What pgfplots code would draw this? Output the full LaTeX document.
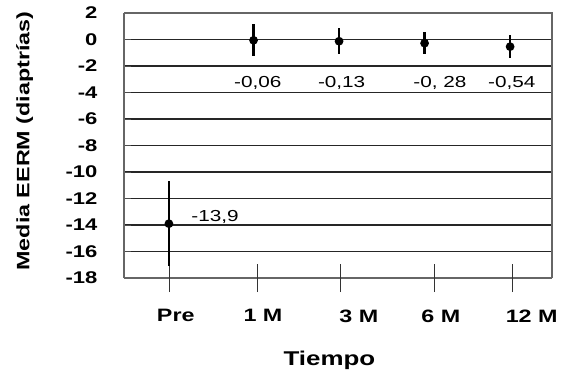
\documentclass[border=0pt]{standalone}
\usepackage{fontspec}
\setmainfont[FakeStretch=1.3]{Liberation Sans}
\usepackage{pgfplots}
\pgfplotsset{compat=1.18}
\begin{document}
\begin{tikzpicture}[x=1bp,y=1bp]
\useasboundingbox (0,0) rectangle (564,373);
\begin{axis}[
  at={(124bp,95bp)}, anchor=south west,
  scale only axis, width=428bp, height=265bp,
  xmin=-0.515, xmax=4.49, ymin=-18, ymax=2,
  ytick={-18,-16,...,2},
  yticklabels={-18,-16,-14,-12,-10,-8,-6,-4,-2,0,2},
  yticklabel style={font=\fontsize{17}{18}\selectfont\bfseries, xshift=-23bp},
  xtick=\empty,
  extra x ticks={0.02,1.04,2.02,3.12,4.03},
  extra x tick labels={Pre,1 M,\hspace*{24bp}3 M,6 M,\hspace*{26bp}12 M},
  extra x tick style={major tick length=28bp, tick align=center,
    tick style={black!80, line width=0.8pt},
    xticklabel style={font=\fontsize{18}{19}\selectfont\bfseries, xshift=6bp, yshift=-14bp}},
  major tick length=7bp,
  y tick style={black!70, line width=0.8pt},
  ytick pos=left, xtick pos=bottom,
  ymajorgrids, grid style={black!85, line width=1.1pt},
  axis line style={black!60, line width=1.2pt},
  axis x line*=bottom,
  xlabel={\textbf{Tiempo}},
  ylabel={\textbf{Media EERM (diaptrías)}},
  xlabel style={font=\fontsize{20}{21}\selectfont, at={(axis description cs:0.48,-0.31)}, anchor=center},
  ylabel style={font=\fontsize{18}{19}\selectfont, at={(axis description cs:-0.232,0.517)}, anchor=center},
  clip=false,
]
\addplot[black, line width=2.6pt, mark=*, mark size=3pt, only marks,
  error bars/.cd, y dir=both, y explicit,
  error bar style={black, line width=2.6pt}, error mark=none]
  coordinates {
  (0.01,-13.9) +- (0,3.2)
  (1,-0.06) +- (0,1.2)
  (2,-0.13) +- (0,1.0)
  (3,-0.28) +- (0,0.85)
  (4,-0.54) +- (0,0.85)
  };
\draw[black!60, line width=1.2pt] (axis cs:-0.515,2) -- (axis cs:4.49,2) -- (axis cs:4.49,-18);
\draw[black!60, line width=1.2pt] (axis cs:-0.515,2) -- (axis cs:-0.515,-18);
\node[font=\fontsize{16}{17}\selectfont] at (axis cs:1.05,-3.28) {-0,06};
\node[font=\fontsize{16}{17}\selectfont] at (axis cs:2.03,-3.28) {-0,13};
\node[font=\fontsize{16}{17}\selectfont] at (axis cs:3.18,-3.28) {-0, 28};
\node[font=\fontsize{16}{17}\selectfont] at (axis cs:4.02,-3.28) {-0,54};
\node[font=\fontsize{16}{17}\selectfont] at (axis cs:0.55,-13.4) {-13,9};
\end{axis}
\end{tikzpicture}
\end{document}
